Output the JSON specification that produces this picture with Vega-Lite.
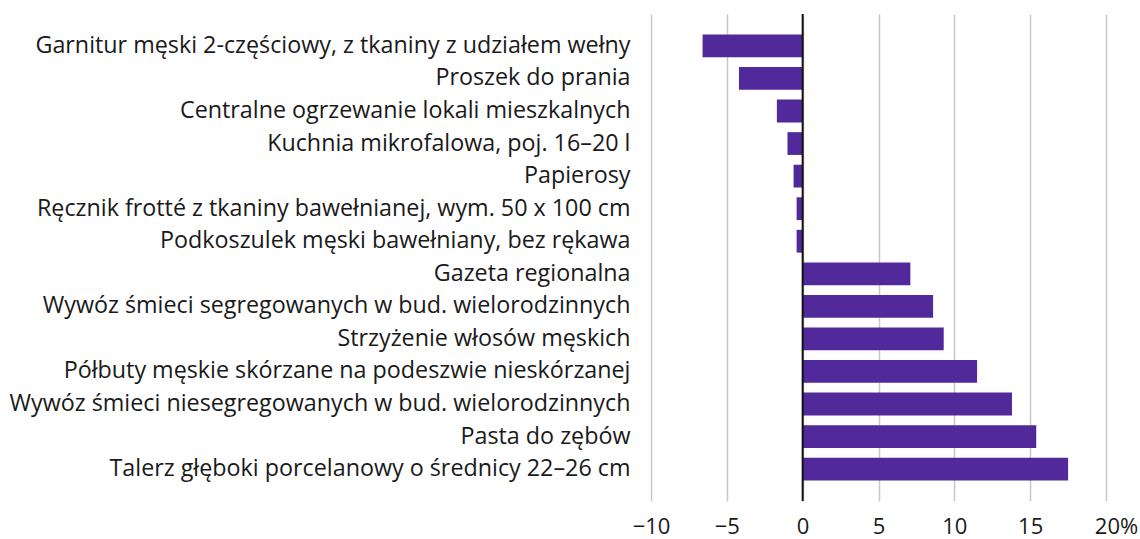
{
  "$schema": "https://vega.github.io/schema/vega-lite/v6.json",
  "autosize": {"type": "none"},
  "padding": {"left": 651, "top": 14, "right": 34, "bottom": 38},
  "width": 455,
  "height": 487,
  "background": "white",
  "config": {"view": {"stroke": null}, "font": "Open Sans"},
  "data": {"values": [
    {"item": "Garnitur męski 2-częściowy, z tkaniny z udziałem wełny", "value": -6.6},
    {"item": "Proszek do prania", "value": -4.2},
    {"item": "Centralne ogrzewanie lokali mieszkalnych", "value": -1.7},
    {"item": "Kuchnia mikrofalowa, poj. 16–20 l", "value": -1.0},
    {"item": "Papierosy", "value": -0.6},
    {"item": "Ręcznik frotté z tkaniny bawełnianej, wym. 50 x 100 cm", "value": -0.4},
    {"item": "Podkoszulek męski bawełniany, bez rękawa", "value": -0.4},
    {"item": "Gazeta regionalna", "value": 7.1},
    {"item": "Wywóz śmieci segregowanych w bud. wielorodzinnych", "value": 8.6},
    {"item": "Strzyżenie włosów męskich", "value": 9.3},
    {"item": "Półbuty męskie skórzane na podeszwie nieskórzanej", "value": 11.5},
    {"item": "Wywóz śmieci niesegregowanych w bud. wielorodzinnych", "value": 13.8},
    {"item": "Pasta do zębów", "value": 15.4},
    {"item": "Talerz głęboki porcelanowy o średnicy 22–26 cm", "value": 17.5}
  ]},
  "layer": [
    {
      "mark": {"type": "bar", "color": "#52299B"},
      "encoding": {
        "y": {"field": "item", "type": "nominal", "sort": null,
          "scale": {"paddingInner": 0.3, "paddingOuter": 0.63},
          "axis": {"title": null, "domain": false, "ticks": false, "grid": false,
            "labelFontSize": 23.3, "labelColor": "#1a1a1a", "labelPadding": 21, "labelLimit": 700}},
        "x": {"field": "value", "type": "quantitative",
          "scale": {"domain": [-10, 20], "nice": false},
          "axis": {"title": null, "domain": false, "ticks": false, "values": [-10, -5, 0, 5, 10, 15, 20],
            "labelExpr": "datum.value == 20 ? '20%' : format(datum.value, 'd')",
            "labelFlush": false, "labelOverlap": false,
            "labelOffset": {"condition": {"test": "datum.value == 20", "value": 10}, "value": 0},
            "labelFontSize": 22, "labelColor": "#1a1a1a", "labelPadding": 15,
            "grid": true, "gridColor": "#c8c8c8", "gridWidth": 1.5}}
      }
    },
    {
      "data": {"values": [{"zero": 0}]},
      "mark": {"type": "rule", "color": "#111111", "strokeWidth": 2},
      "encoding": {"x": {"field": "zero", "type": "quantitative"}}
    }
  ]
}
